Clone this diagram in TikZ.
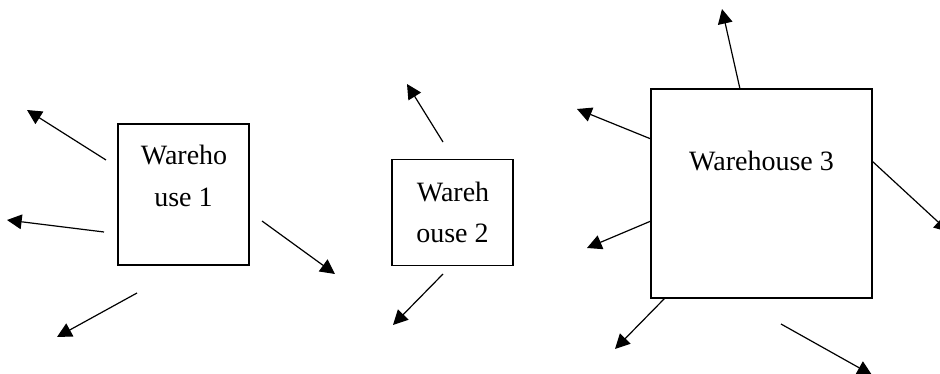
\documentclass[tikz,border=0pt]{standalone}
\usepackage{fontspec}
\setmainfont{Liberation Serif}
\usetikzlibrary{arrows.meta}
\begin{document}
\begin{tikzpicture}[x=0.75pt,y=-0.75pt,
  box/.style n args={2}{draw=black, line width=0.9pt, rectangle, inner sep=0pt,
    minimum width=#1*0.75pt, minimum height=#2*0.75pt},
  lbl/.style={anchor=base, inner sep=0pt, font=\fontsize{21}{28}\selectfont},
  flow/.style={-{Triangle[length=11pt,width=11pt]}, line width=0.9pt, black}
]
\useasboundingbox (0,0) rectangle (940,374);

% boxes
\node[box={131}{141}] (w1) at (183.5,194.5) {};
\node[box={121}{105.5}] (w2) at (452.5,212.5) {};
\node[box={221}{209}] (w3) at (761.5,193.5) {};

% labels
\node[lbl] (t1a) at (184,165) {Wareho};
\node[lbl] (t1b) at (183.5,207) {use 1};
\node[lbl] (t2a) at (453,202) {Wareh};
\node[lbl] (t2b) at (452.5,243) {ouse 2};
\node[lbl] (t3) at (761.5,171) {Warehouse 3};

% arrow end points
\coordinate (a1s) at (106,160);  \coordinate (a1e) at (27,110);
\coordinate (a2s) at (104,232);  \coordinate (a2e) at (7,220);
\coordinate (a3s) at (262,221);  \coordinate (a3e) at (335,274);
\coordinate (a4s) at (137,293);  \coordinate (a4e) at (57,337);
\coordinate (b1s) at (443,142);  \coordinate (b1e) at (407,84);
\coordinate (b2s) at (443,274);  \coordinate (b2e) at (393,325);
\coordinate (c1s) at (740,89);   \coordinate (c1e) at (722,9);
\coordinate (c2s) at (651,139);  \coordinate (c2e) at (577,109);
\coordinate (c3s) at (651,221);  \coordinate (c3e) at (587,248);
\coordinate (c4s) at (872,161);  \coordinate (c4e) at (949,232);
\coordinate (c5s) at (665,298);  \coordinate (c5e) at (615,349);
\coordinate (c6s) at (781,324);  \coordinate (c6e) at (872,375);

\draw[flow] (a1s) -- (a1e);
\draw[flow] (a2s) -- (a2e);
\draw[flow] (a3s) -- (a3e);
\draw[flow] (a4s) -- (a4e);
\draw[flow] (b1s) -- (b1e);
\draw[flow] (b2s) -- (b2e);
\draw[flow] (c1s) -- (c1e);
\draw[flow] (c2s) -- (c2e);
\draw[flow] (c3s) -- (c3e);
\draw[flow] (c4s) -- (c4e);
\draw[flow] (c5s) -- (c5e);
\draw[flow] (c6s) -- (c6e);
\end{tikzpicture}
\end{document}
